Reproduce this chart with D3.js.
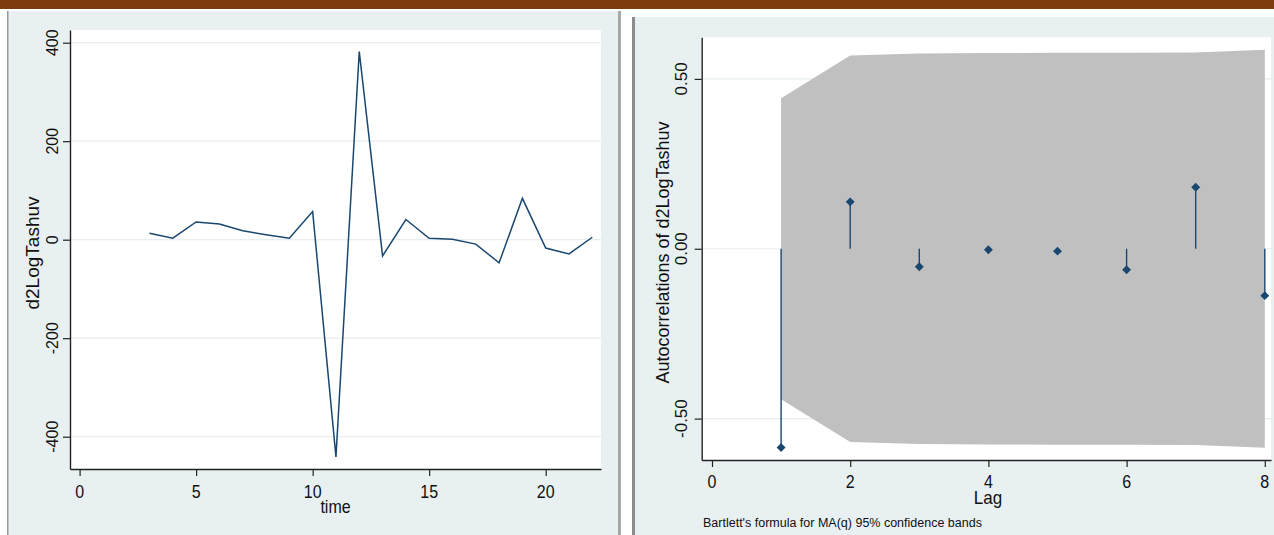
<!DOCTYPE html>
<html>
<head>
<meta charset="utf-8">
<script src="https://cdn.jsdelivr.net/npm/d3@7"></script>
<style>
  body { margin: 0; background: #ffffff; }
  svg { display: block; font-family: "Liberation Sans", Arial, sans-serif; }
</style>
</head>
<body>
<svg id="chart" width="1274" height="535"></svg>
<script>
// ---- Left panel: differenced log series over time ----
const timeValues = [3, 4, 5, 6, 7, 8, 9, 10, 11, 12, 13, 14, 15, 16, 17, 18, 19, 20, 21, 22];
const seriesValues = [13, 3, 36, 32, 18, 10, 3, 57, -441, 382, -33, 41, 3, 1, -9, -47, 84, -17, -29, 5];
const timeTicks = [0, 5, 10, 15, 20];
const seriesTicks = [-400, -200, 0, 200, 400];

// ---- Right panel: autocorrelations with Bartlett bands ----
const lags = [1, 2, 3, 4, 5, 6, 7, 8];
const acfValues = [-0.585, 0.138, -0.053, -0.003, -0.007, -0.062, 0.181, -0.138];
const bandValues = [0.443, 0.569, 0.575, 0.576, 0.577, 0.577, 0.578, 0.586];
const lagTicks = [0, 2, 4, 6, 8];
const acfTicks = [-0.5, 0, 0.5];
const acfTickLabels = ["-0.50", "0.00", "0.50"];

const navy = "#1a476f";
const panelBg = "#e8f0f2";
const gridColor = "#e6eef0";

const svg = d3.select("#chart");

// page header strip
svg.append("rect").attr("x", 0).attr("y", 0).attr("width", 1274).attr("height", 9).attr("fill", "#7e3b0d");

// panel backgrounds and frames
svg.append("rect").attr("x", 8).attr("y", 11).attr("width", 610).attr("height", 524).attr("fill", panelBg);
svg.append("rect").attr("x", 7).attr("y", 11).attr("width", 1.5).attr("height", 524).attr("fill", "#9a9a9a");
svg.append("rect").attr("x", 618).attr("y", 11).attr("width", 3).attr("height", 524).attr("fill", "#a8a8a8");
svg.append("rect").attr("x", 635).attr("y", 17).attr("width", 639).attr("height", 518).attr("fill", panelBg);
svg.append("rect").attr("x", 632).attr("y", 17).attr("width", 3).attr("height", 518).attr("fill", "#8c8c8c");

// helper: horizontal text, slightly taller than wide
function hText(g, x, y, str, size, sy, anchor) {
  return g.append("text")
    .attr("transform", `translate(${x},${y}) scale(1,${sy})`)
    .attr("text-anchor", anchor || "middle")
    .attr("font-size", size)
    .attr("fill", "#111")
    .text(str);
}

// ================= Left chart =================
{
  const L = { left: 70, right: 601, top: 30, bottom: 469 };
  const x = d3.scaleLinear().domain([0, 20]).range([79.6, 545.7]);
  x.domain([x.invert(L.left), x.invert(L.right)]).range([L.left, L.right]);
  const y = d3.scaleLinear().domain([-400, 400]).range([436.7, 42.7]);
  y.domain([y.invert(L.bottom), y.invert(L.top)]).range([L.bottom, L.top]);

  const g = svg.append("g");
  g.append("rect").attr("x", L.left).attr("y", L.top)
    .attr("width", L.right - L.left).attr("height", L.bottom - L.top).attr("fill", "#fff");

  // horizontal grid
  g.selectAll("line.grid").data(seriesTicks).join("line")
    .attr("x1", L.left).attr("x2", L.right)
    .attr("y1", d => y(d)).attr("y2", d => y(d))
    .attr("stroke", gridColor).attr("stroke-width", 1.2);

  // series line
  const line = d3.line().x((d, i) => x(timeValues[i])).y(d => y(d));
  g.append("path").datum(seriesValues)
    .attr("d", line).attr("fill", "none")
    .attr("stroke", navy).attr("stroke-width", 1.5).attr("stroke-linejoin", "miter");

  // y axis
  const ya = g.append("g").attr("transform", `translate(${L.left},0)`)
    .call(d3.axisLeft(y).tickValues(seriesTicks).tickSize(7).tickSizeOuter(0).tickFormat(""));
  ya.select(".domain").attr("stroke", "#222").attr("stroke-width", 1.4);
  ya.selectAll(".tick line").attr("stroke", "#222").attr("stroke-width", 1.2);
  seriesTicks.forEach(v => {
    g.append("text")
      .attr("transform", `translate(58,${y(v)}) rotate(-90)`)
      .attr("text-anchor", "middle").attr("font-size", 16).attr("fill", "#111")
      .text(v);
  });

  // x axis
  const xa = g.append("g").attr("transform", `translate(0,${L.bottom})`)
    .call(d3.axisBottom(x).tickValues(timeTicks).tickSize(7).tickSizeOuter(0).tickFormat(""));
  xa.select(".domain").attr("stroke", "#222").attr("stroke-width", 1.4);
  xa.selectAll(".tick line").attr("stroke", "#222").attr("stroke-width", 1.2);
  timeTicks.forEach(v => hText(g, x(v), 497.5, v, 16, 1.15));

  // axis titles
  hText(g, (L.left + L.right) / 2, 513, "time", 16, 1.2);
  g.append("text")
    .attr("transform", `translate(39,253) rotate(-90)`)
    .attr("text-anchor", "middle").attr("font-size", 19).attr("fill", "#111")
    .text("d2LogTashuv");
}

// ================= Right chart =================
{
  const R = { left: 701.7, right: 1271, top: 37.3, bottom: 460 };
  const x = d3.scaleLinear().domain([0, 8]).range([712, 1264.8]);
  x.domain([x.invert(R.left), x.invert(R.right)]).range([R.left, R.right]);
  const y = d3.scaleLinear().domain([-0.5, 0.5]).range([418.6, 78.9]);
  y.domain([y.invert(R.bottom), y.invert(R.top)]).range([R.bottom, R.top]);

  const g = svg.append("g");
  g.append("rect").attr("x", R.left).attr("y", R.top)
    .attr("width", R.right - R.left).attr("height", R.bottom - R.top).attr("fill", "#fff");

  g.selectAll("line.grid").data(acfTicks).join("line")
    .attr("x1", R.left).attr("x2", R.right)
    .attr("y1", d => y(d)).attr("y2", d => y(d))
    .attr("stroke", gridColor).attr("stroke-width", 1.2);

  // confidence band
  const area = d3.area()
    .x((d, i) => x(lags[i]))
    .y0(d => y(-d)).y1(d => y(d));
  g.append("path").datum(bandValues).attr("d", area).attr("fill", "#c0c0c0");

  // stems and diamond markers
  g.selectAll("line.stem").data(acfValues).join("line")
    .attr("x1", (d, i) => x(lags[i])).attr("x2", (d, i) => x(lags[i]))
    .attr("y1", y(0)).attr("y2", d => y(d))
    .attr("stroke", navy).attr("stroke-width", 1.4);
  g.selectAll("path.mk").data(acfValues).join("path")
    .attr("transform", (d, i) => `translate(${x(lags[i])},${y(d)}) rotate(45)`)
    .attr("d", d3.symbol().type(d3.symbolSquare).size(40))
    .attr("fill", navy);

  const ya = g.append("g").attr("transform", `translate(${R.left},0)`)
    .call(d3.axisLeft(y).tickValues(acfTicks).tickSize(7).tickSizeOuter(0).tickFormat(""));
  ya.select(".domain").attr("stroke", "#222").attr("stroke-width", 1.4);
  ya.selectAll(".tick line").attr("stroke", "#222").attr("stroke-width", 1.2);
  acfTicks.forEach((v, i) => {
    g.append("text")
      .attr("transform", `translate(687,${y(v)}) rotate(-90)`)
      .attr("text-anchor", "middle").attr("font-size", 17).attr("fill", "#111")
      .text(acfTickLabels[i]);
  });

  const xa = g.append("g").attr("transform", `translate(0,${R.bottom})`)
    .call(d3.axisBottom(x).tickValues(lagTicks).tickSize(7).tickSizeOuter(0).tickFormat(""));
  xa.select(".domain").attr("stroke", "#222").attr("stroke-width", 1.4);
  xa.selectAll(".tick line").attr("stroke", "#222").attr("stroke-width", 1.2);
  lagTicks.forEach(v => hText(g, x(v), 487.5, v, 16, 1.12));

  hText(g, 988, 504, "Lag", 17, 1.08);
  g.append("text")
    .attr("transform", `translate(669,252.5) rotate(-90)`)
    .attr("text-anchor", "middle").attr("font-size", 18).attr("fill", "#111")
    .text("Autocorrelations of d2LogTashuv");
  g.append("text").attr("x", 703).attr("y", 527)
    .attr("font-size", 12.5).attr("fill", "#111")
    .text("Bartlett's formula for MA(q) 95% confidence bands");
}
</script>
</body>
</html>
